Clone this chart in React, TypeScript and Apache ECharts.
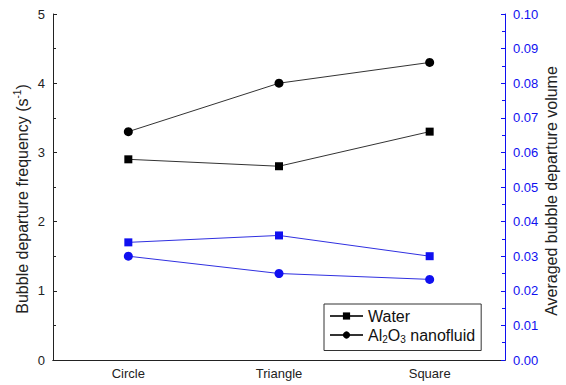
import React, { useEffect, useRef } from "react";
import * as echarts from "echarts";

const categories = ["Circle", "Triangle", "Square"];
const waterFreq = [2.9, 2.8, 3.3];
const nanoFreq = [3.3, 4.0, 4.3];
const waterVol = [0.034, 0.036, 0.030];
const nanoVol = [0.030, 0.025, 0.0233];

const FONT = "Liberation Sans, Arial, sans-serif";

export default function App() {
  const ref = useRef<HTMLDivElement>(null);
  useEffect(() => {
    if (!ref.current) return;
    const chart = echarts.init(ref.current, undefined, { renderer: "svg" });
    const blue = "#1010f0";
    const blueLine = "#3030e0";
    chart.setOption({
      animation: false,
      backgroundColor: "#ffffff",
      textStyle: { fontFamily: FONT },
      grid: { left: 53, right: 61, top: 14, bottom: 25, containLabel: false },
      legend: {
        data: ["Water", "Al2O3 nanofluid"],
        orient: "vertical",
        left: 324,
        top: 304,
        borderColor: "#333",
        borderWidth: 1,
        padding: [4, 6, 6, 5],
        itemWidth: 33,
        itemHeight: 9,
        itemGap: 3,
        textStyle: {
          fontSize: 16,
          color: "#111",
          fontFamily: FONT,
          rich: {
            sub: { fontSize: 10, padding: [9, 0, 0, 0], color: "#111", fontFamily: FONT },
            n: { fontSize: 16, color: "#111", fontFamily: FONT },
          },
        },
        formatter: (name: string) =>
          name === "Water" ? "{n|Water}" : "{n|Al}{sub|2}{n|O}{sub|3}{n| nanofluid}",
      },
      graphic: [
        {
          type: "text",
          x: 22,
          y: 199,
          rotation: Math.PI / 2,
          style: {
            text: "{a|Bubble departure frequency (s}{sup|-1}{a|)}",
            align: "center",
            verticalAlign: "middle",
            rich: {
              a: { fontSize: 16, fill: "#222", fontFamily: FONT },
              sup: { fontSize: 10, fill: "#222", fontFamily: FONT, padding: [0, 0, 9, 0] },
            },
          },
        },
        {
          type: "text",
          x: 551,
          y: 191,
          rotation: Math.PI / 2,
          style: {
            text: "Averaged bubble departure volume",
            align: "center",
            verticalAlign: "middle",
            fontSize: 16,
            fill: "#222",
            fontFamily: FONT,
          },
        },
      ],
      xAxis: [
        {
          type: "category",
          data: categories,
          position: "bottom",
          axisLine: { lineStyle: { color: "#222", width: 1 } },
          axisTick: { show: false },
          axisLabel: { fontSize: 13, color: "#222", margin: 7, fontFamily: FONT },
        },
        {
          type: "category",
          data: categories,
          position: "top",
          axisLine: { lineStyle: { color: "#222", width: 1 } },
          axisTick: { show: false },
          axisLabel: { show: false },
        },
      ],
      yAxis: [
        {
          type: "value",
          min: 0,
          max: 5,
          interval: 1,
          position: "left",
          splitLine: { show: false },
          axisLine: { show: true, lineStyle: { color: "#222", width: 1 } },
          axisTick: { show: true, inside: true, length: 4, lineStyle: { color: "#222" } },
          minorTick: { show: true, splitNumber: 2, length: 3, lineStyle: { color: "#222" } },
          axisLabel: { fontSize: 13, color: "#222", margin: 8, fontFamily: FONT },
        },
        {
          type: "value",
          min: 0,
          max: 0.1,
          interval: 0.01,
          position: "right",
          splitLine: { show: false },
          axisLine: { show: true, lineStyle: { color: blue, width: 1 } },
          axisTick: { show: true, inside: true, length: 4, lineStyle: { color: blue } },
          minorTick: { show: true, splitNumber: 2, length: 3, lineStyle: { color: blue } },
          axisLabel: {
            fontSize: 13,
            color: blue,
            margin: 8,
            fontFamily: FONT,
            formatter: (v: number) => v.toFixed(2),
          },
        },
      ],
      series: [
        {
          name: "Water",
          type: "line",
          data: waterFreq,
          yAxisIndex: 0,
          symbol: "rect",
          symbolSize: 8,
          lineStyle: { color: "#333", width: 1 },
          itemStyle: { color: "#000" },
        },
        {
          name: "Al2O3 nanofluid",
          type: "line",
          data: nanoFreq,
          yAxisIndex: 0,
          symbol: "circle",
          symbolSize: 9,
          lineStyle: { color: "#333", width: 1 },
          itemStyle: { color: "#000" },
        },
        {
          name: "Water volume",
          type: "line",
          data: waterVol,
          yAxisIndex: 1,
          symbol: "rect",
          symbolSize: 8,
          lineStyle: { color: blueLine, width: 1 },
          itemStyle: { color: blue },
        },
        {
          name: "Nanofluid volume",
          type: "line",
          data: nanoVol,
          yAxisIndex: 1,
          symbol: "circle",
          symbolSize: 9,
          lineStyle: { color: blueLine, width: 1 },
          itemStyle: { color: blue },
        },
      ],
    });
    return () => chart.dispose();
  }, []);
  return (
    <div
      ref={ref}
      style={{ position: "fixed", left: 0, top: 0, width: 566, height: 385 }}
    />
  );
}
